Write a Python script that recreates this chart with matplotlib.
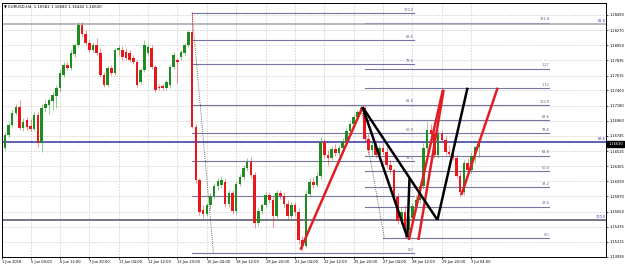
import matplotlib
matplotlib.use('Agg')
import matplotlib.pyplot as plt
import matplotlib.transforms as mtransforms

# ---------------- data ----------------
first_bar = -1   # bar index of the first (partly visible) candle
opens = [1.1667, 1.1657, 1.1676, 1.1690, 1.1707, 1.1716, 1.1686, 1.1697, 1.1689, 1.1684,
         1.1705, 1.1664, 1.1715, 1.1719, 1.1725, 1.1732, 1.1744, 1.1762, 1.1777, 1.1772,
         1.1792, 1.1806, 1.1835, 1.1822, 1.1809, 1.1798, 1.1806, 1.1794, 1.1762, 1.1748,
         1.1772, 1.1765, 1.1798, 1.1798, 1.1796, 1.1794, 1.1787, 1.1781, 1.1752, 1.1770,
         1.1794, 1.1801, 1.1774, 1.1745, 1.1746, 1.1744, 1.1748, 1.1774, 1.1784, 1.1788,
         1.1794, 1.1806, 1.1824, 1.1687, 1.1611, 1.1567, 1.1562, 1.1575, 1.1588, 1.1602,
         1.1604, 1.1608, 1.1576, 1.1592, 1.1566, 1.1605, 1.1615, 1.1628, 1.1637, 1.1618,
         1.1549, 1.1566, 1.1575, 1.1589, 1.1582, 1.1559, 1.1592, 1.1588, 1.1576, 1.1559,
         1.1575, 1.1565, 1.1524, 1.1515, 1.1591, 1.1608, 1.1604, 1.1617, 1.1666, 1.1647,
         1.1642, 1.1655, 1.1650, 1.1657, 1.1667, 1.1681, 1.1692, 1.1702, 1.1709, 1.1715,
         1.1670, 1.1654, 1.1661, 1.1647, 1.1657, 1.1651, 1.1632, 1.1625, 1.1586, 1.1551,
         1.1565, 1.1538, 1.1556, 1.1573, 1.1582, 1.1602, 1.1657, 1.1683, 1.1677, 1.1647,
         1.1677, 1.1668, 1.1651, 1.1648, 1.1642, 1.1617, 1.1593, 1.1635, 1.1625, 1.1645,
         1.16582]
highs = [1.1671, 1.1680, 1.1694, 1.1712, 1.1720, 1.1726, 1.1700, 1.1702, 1.1699, 1.1709,
         1.1709, 1.1720, 1.1726, 1.1729, 1.1738, 1.1748, 1.1770, 1.1781, 1.1781, 1.1798,
         1.1809, 1.1839, 1.1839, 1.1827, 1.1813, 1.1810, 1.1816, 1.1801, 1.1767, 1.1775,
         1.1777, 1.1801, 1.1806, 1.1804, 1.1801, 1.1798, 1.1791, 1.1784, 1.1772, 1.1813,
         1.1807, 1.1806, 1.1777, 1.1749, 1.1749, 1.1755, 1.1777, 1.1796, 1.1787, 1.1798,
         1.1809, 1.1827, 1.1853, 1.1692, 1.1614, 1.1575, 1.1578, 1.1592, 1.1606, 1.1614,
         1.1617, 1.1614, 1.1596, 1.1596, 1.1609, 1.1619, 1.1632, 1.1642, 1.1644, 1.1622,
         1.1570, 1.1578, 1.1593, 1.1593, 1.1588, 1.1596, 1.1596, 1.1593, 1.1582, 1.1579,
         1.1579, 1.1570, 1.1530, 1.1596, 1.1614, 1.1615, 1.1622, 1.1673, 1.1670, 1.1654,
         1.1660, 1.1662, 1.1661, 1.1671, 1.1686, 1.1696, 1.1706, 1.1712, 1.1719, 1.1718,
         1.1677, 1.1667, 1.1668, 1.1661, 1.1664, 1.1665, 1.1640, 1.1628, 1.1592, 1.1570,
         1.1575, 1.1560, 1.1578, 1.1589, 1.1608, 1.1664, 1.1694, 1.1692, 1.1683, 1.1683,
         1.1683, 1.1674, 1.1661, 1.1654, 1.1647, 1.1625, 1.1640, 1.1642, 1.1651, 1.1660,
         1.16680]
lows = [1.1622, 1.1654, 1.1673, 1.1687, 1.1705, 1.1683, 1.1681, 1.1683, 1.1681, 1.1681,
        1.1658, 1.1651, 1.1709, 1.1706, 1.1712, 1.1715, 1.1738, 1.1759, 1.1770, 1.1770,
        1.1788, 1.1803, 1.1817, 1.1806, 1.1796, 1.1796, 1.1791, 1.1759, 1.1745, 1.1745,
        1.1762, 1.1762, 1.1791, 1.1784, 1.1784, 1.1781, 1.1778, 1.1745, 1.1749, 1.1767,
        1.1791, 1.1771, 1.1738, 1.1741, 1.1741, 1.1741, 1.1744, 1.1771, 1.1751, 1.1784,
        1.1791, 1.1803, 1.1686, 1.1606, 1.1560, 1.1556, 1.1558, 1.1567, 1.1583, 1.1596,
        1.1599, 1.1572, 1.1572, 1.1562, 1.1562, 1.1602, 1.1611, 1.1624, 1.1614, 1.1541,
        1.1544, 1.1562, 1.1572, 1.1578, 1.1543, 1.1556, 1.1583, 1.1572, 1.1555, 1.1556,
        1.1559, 1.1518, 1.1508, 1.1512, 1.1586, 1.1599, 1.1601, 1.1612, 1.1642, 1.1632,
        1.1640, 1.1645, 1.1645, 1.1654, 1.1664, 1.1677, 1.1687, 1.1699, 1.1706, 1.1665,
        1.1648, 1.1645, 1.1642, 1.1642, 1.1647, 1.1628, 1.1619, 1.1582, 1.1547, 1.1547,
        1.1527, 1.1534, 1.1553, 1.1567, 1.1578, 1.1598, 1.1651, 1.1674, 1.1642, 1.1642,
        1.1665, 1.1647, 1.1645, 1.1640, 1.1614, 1.1586, 1.1589, 1.1622, 1.1621, 1.1635,
        1.16442]
closes = [1.1654, 1.1676, 1.1690, 1.1707, 1.1716, 1.1686, 1.1694, 1.1687, 1.1684, 1.1705,
          1.1664, 1.1715, 1.1720, 1.1726, 1.1733, 1.1744, 1.1765, 1.1777, 1.1772, 1.1794,
          1.1806, 1.1835, 1.1822, 1.1809, 1.1798, 1.1806, 1.1794, 1.1762, 1.1748, 1.1772,
          1.1765, 1.1798, 1.1801, 1.1788, 1.1787, 1.1784, 1.1781, 1.1748, 1.1770, 1.1806,
          1.1803, 1.1774, 1.1741, 1.1744, 1.1744, 1.1752, 1.1774, 1.1791, 1.1781, 1.1796,
          1.1806, 1.1824, 1.1687, 1.1611, 1.1565, 1.1562, 1.1575, 1.1588, 1.1602, 1.1609,
          1.1611, 1.1576, 1.1592, 1.1566, 1.1605, 1.1615, 1.1628, 1.1637, 1.1618, 1.1549,
          1.1566, 1.1575, 1.1589, 1.1582, 1.1559, 1.1592, 1.1588, 1.1576, 1.1559, 1.1575,
          1.1565, 1.1524, 1.1515, 1.1591, 1.1608, 1.1604, 1.1617, 1.1666, 1.1647, 1.1642,
          1.1655, 1.1650, 1.1657, 1.1667, 1.1681, 1.1692, 1.1702, 1.1709, 1.1715, 1.1670,
          1.1654, 1.1661, 1.1647, 1.1657, 1.1651, 1.1632, 1.1625, 1.1586, 1.1551, 1.1565,
          1.1538, 1.1556, 1.1573, 1.1582, 1.1602, 1.1657, 1.1683, 1.1677, 1.1647, 1.1677,
          1.1668, 1.1651, 1.1648, 1.1642, 1.1617, 1.1593, 1.1635, 1.1625, 1.1645, 1.1658,
          1.16630]

y_ticks = [1.14995, 1.15215, 1.15435, 1.15650, 1.15870, 1.16090, 1.16305, 1.16525, 1.16745,
           1.16960, 1.17180, 1.17400, 1.17615, 1.17835, 1.18050, 1.18270, 1.18490]
x_tick_pos = [-0.7, 7, 15, 23, 31, 39, 47, 55, 63, 71, 79, 87, 95, 103, 111, 119, 127]
x_tick_labels = ["1 Jun 2018", "5 Jun 04:00", "6 Jun 12:00", "7 Jun 20:00", "11 Jun 04:00",
                 "12 Jun 12:00", "13 Jun 20:00", "15 Jun 04:00", "18 Jun 12:00", "19 Jun 20:00",
                 "21 Jun 04:00", "22 Jun 12:00", "25 Jun 20:00", "27 Jun 04:00", "28 Jun 12:00",
                 "29 Jun 20:00", "3 Jul 04:00"]

# Fibonacci retracement objects
fib1_high, fib1_low = 1.1852, 1.1505
fib1_x = (51.0, 111.3)
fib1_levels = [0.0, 23.6, 38.2, 50.0, 61.8, 78.6, 88.6, 100.0]
fib1_labels = ["0.0", "", "38.2", "50.0", "61.8", "78.6", "88.6", "100.0"]
fib1_diag = ((51.0, 1.1852), (56.8, 1.1505))

fib2_low, fib2_high = 1.1527, 1.1719
fib2_x = (98.2, 148.3)
fib2_levels = [0.0, 23.6, 38.2, 50.0, 61.8, 78.6, 88.6, 100.0, 112.8, 127.2, 161.8]
fib2_labels = ["0.0", "23.6", "38.2", "50.0", "61.8", "78.6", "88.6", "100.0", "1.12", "1.27", "161.8"]
fib2_diag = ((97.0, 1.1716), (103.3, 1.1528))

# long horizontal levels across the chart
hlines_price = [1.1836, 1.16656, 1.1553]
hlines_label = ["61.8", "88.6", "100.0"]
hlines_color = ["#a4a4b4", "#3434a0", "#505068"]

# trend lines (bar index, price)
red_lines = [((80.5, 1.1510), (97.4, 1.1716)),
             ((110.0, 1.1524), (119.3, 1.1741)),
             ((112.6, 1.1524), (119.5, 1.1741)),
             ((124.3, 1.1589), (134.2, 1.1744))]
black_lines = [((97.4, 1.1716), (109.6, 1.1528)),
               ((97.4, 1.1716), (117.8, 1.1553)),
               ((109.6, 1.1528), (110.2, 1.1614)),
               ((117.8, 1.1553), (126.0, 1.1744))]

current_price = 1.16630
title = "EURUSD,H4  1.16582 1.16680 1.16442 1.16630"

# ---------------- drawing ----------------
fig = plt.figure(figsize=(6.25, 2.68), dpi=100)
ax = fig.add_axes([2 / 625, 11 / 268, 604 / 625, 254 / 268])
ax.set_xlim(-0.77, 163.7)
ax.set_ylim(1.14995, 1.18663)

ax.yaxis.tick_right()
ax.set_yticks(y_ticks)
ax.set_yticklabels([f"{v:.5f}" for v in y_ticks], fontsize=2.6)
ax.set_xticks(x_tick_pos)
ax.set_xticklabels(x_tick_labels, fontsize=2.6)
for lab in ax.get_xticklabels():
    lab.set_ha('left')
ax.tick_params(axis='both', length=1.5, width=0.5, pad=0.8)
ax.grid(True, ls=(0, (2, 2)), color='#c4c4c4', lw=0.5)
for s in ax.spines.values():
    s.set_linewidth(0.7)

gcol = '#1e8c1e'
rcol = '#e8171c'
for k, (o, h, l, c) in enumerate(zip(opens, highs, lows, closes)):
    i = first_bar + k
    col = gcol if c >= o else rcol
    ax.vlines(i, l, h, color=col, lw=0.6, alpha=0.55, zorder=3)
    ax.bar(i, max(abs(c - o), 0.00005), bottom=min(o, c), width=0.7,
           color=col, lw=0, zorder=4)

fcol = '#7676a0'
for lv, lb in zip(fib1_levels, fib1_labels):
    p = fib1_low + (fib1_high - fib1_low) * lv / 100
    ax.plot(fib1_x, [p, p], color=fcol, lw=0.8, zorder=2)
    if lb:
        ax.text(fib1_x[1], p + 0.0002, lb, fontsize=2.5, color='#5a5a8a', ha='right', va='bottom')
(xa, ya), (xb, yb) = fib1_diag
ax.plot([xa, xb], [ya, yb], color='#404040', lw=0.6, ls=(0, (1, 1.5)), zorder=2)

for lv, lb in zip(fib2_levels, fib2_labels):
    p = fib2_low + (fib2_high - fib2_low) * lv / 100
    x0 = fib2_x[0] if lv > 0 else 103.1
    ax.plot([x0, fib2_x[1]], [p, p], color=fcol, lw=0.8, zorder=2)
    ax.text(fib2_x[1], p + 0.0002, lb, fontsize=2.5, color='#5a5a8a', ha='right', va='bottom')
(xa, ya), (xb, yb) = fib2_diag
ax.plot([xa, xb], [ya, yb], color='#404040', lw=0.6, ls=(0, (1, 1.5)), zorder=2)

for p, lb, col in zip(hlines_price, hlines_label, hlines_color):
    ax.axhline(p, color=col, lw=1.1, zorder=2)
    ax.text(163.5, p + 0.0002, lb, fontsize=2.5, color='#3434a0', ha='right', va='bottom')

for (xa, ya), (xb, yb) in red_lines:
    ax.plot([xa, xb], [ya, yb], color='#e01e24', lw=1.8, zorder=6, solid_capstyle='butt')
for (xa, ya), (xb, yb) in black_lines:
    ax.plot([xa, xb], [ya, yb], color='black', lw=1.8, zorder=6, solid_capstyle='butt')

trans = mtransforms.blended_transform_factory(ax.transAxes, ax.transData)
ax.text(1.004, current_price, f"{current_price:.5f}", transform=trans, fontsize=2.6,
        color='white', ha='left', va='center',
        bbox=dict(facecolor='black', edgecolor='black', pad=0.8), zorder=10, clip_on=False)

fig.text(4 / 625, 1 - 6 / 268, "\u25BC " + title, fontsize=2.8, ha='left', va='center')

fig.savefig('out.png', dpi=100)
